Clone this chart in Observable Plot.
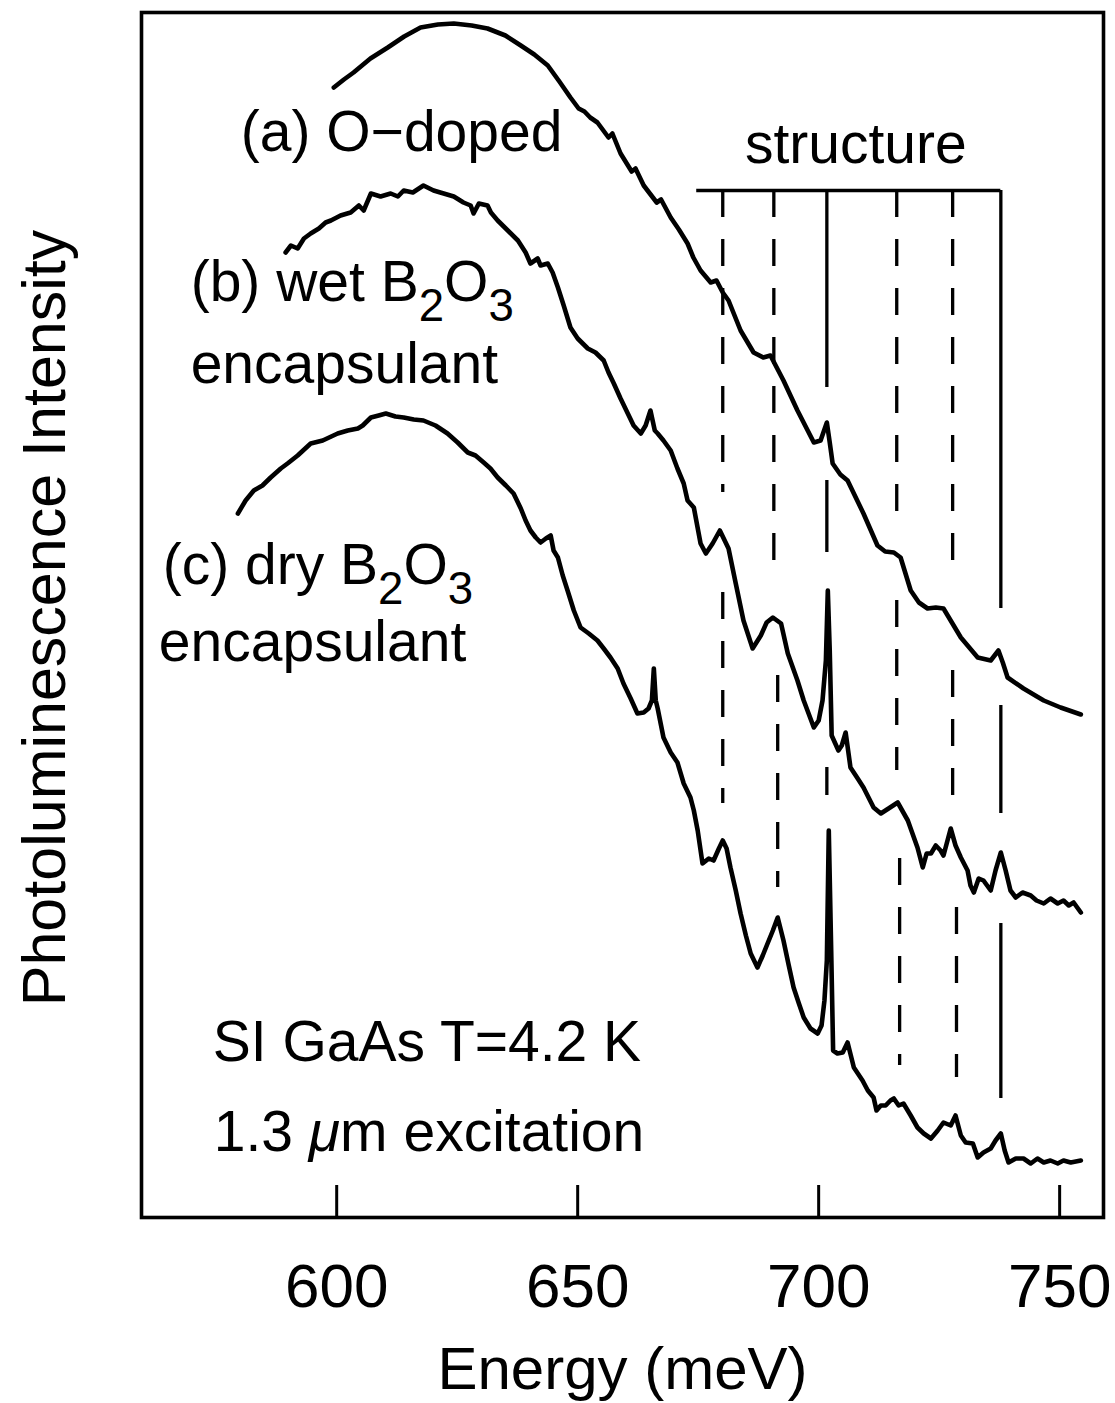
<!DOCTYPE html>
<html>
<head>
<meta charset="utf-8">
<script src="https://cdn.jsdelivr.net/npm/d3@7"></script>
<script src="https://cdn.jsdelivr.net/npm/@observablehq/plot@0.6"></script>
<style>
  body { margin: 0; background: #fff; }
</style>
</head>
<body>
<div id="chart"></div>
<script>
// Photoluminescence spectra of SI GaAs, energy in meV vs intensity (arb. units, curves offset)

const xTicks = [600, 650, 700, 750];

// (a) O-doped
const curveA = [
  [599.4,113.0],[601.5,113.8],[603.5,114.5],[607.0,115.9],[610.6,117.0],[614.0,118.1],[617.4,119.0],
  [621.0,119.3],[624.3,119.4],[628.0,119.2],[631.3,118.9],[635.0,118.2],[638.2,117.2],[641.0,116.3],
  [643.8,115.2],[646.2,113.6],[648.5,112.0],[650.2,110.9],[651.4,110.6],[652.6,110.0],[654.1,109.5],
  [656.4,108.0],[657.2,108.4],[658.9,106.4],[661.2,104.6],[662.0,104.9],[663.7,103.2],[666.4,101.5],
  [667.3,101.8],[669.3,100.0],[671.0,98.8],[672.8,97.4],[674.0,96.0],[675.5,94.7],[677.6,93.5],
  [678.8,93.7],[680.1,92.5],[681.3,91.7],[683.8,88.7],[686.5,86.5],[688.5,86.0],[690.0,86.2],
  [692.7,83.7],[695.6,80.7],[699.0,77.5],[700.4,77.7],[701.7,79.5],[702.3,77.5],[702.9,75.4],
  [704.5,74.3],[706.0,73.7],[709.3,70.4],[712.2,67.2],[713.8,66.6],[715.6,66.5],[717.0,66.0],
  [719.1,62.7],[720.8,61.5],[722.6,60.9],[724.3,61.0],[725.9,60.9],[729.5,58.0],[733.0,56.0],
  [735.7,55.7],[737.3,56.7],[738.2,55.5],[739.2,54.0],[742.5,52.9],[746.7,51.7],[750.2,51.0],
  [754.4,50.3]
];

// (b) wet B2O3 encapsulant
const curveB = [
  [589.4,96.5],[590.5,97.2],[591.9,96.9],[593.2,97.9],[594.6,98.4],[596.3,98.9],[597.7,99.5],
  [598.8,99.7],[600.8,100.2],[602.9,100.5],[604.6,101.2],[605.6,100.7],[607.1,102.4],[609.1,102.1],
  [611.2,102.4],[612.7,102.1],[613.9,102.7],[615.8,102.5],[618.0,103.2],[620.1,102.7],[622.2,102.4],
  [624.3,102.1],[626.3,101.5],[627.8,101.2],[628.4,100.4],[629.5,101.4],[631.3,101.2],[632.0,100.5],
  [633.4,99.7],[635.5,98.7],[637.6,97.7],[639.2,96.5],[640.2,95.4],[641.7,95.9],[642.3,95.2],
  [643.8,95.4],[644.8,94.5],[645.9,93.0],[647.1,91.2],[648.5,89.0],[650.0,87.9],[652.1,86.9],
  [653.7,86.5],[655.4,85.7],[656.4,84.5],[657.5,83.4],[658.9,81.9],[660.4,80.4],[661.6,79.2],
  [663.1,78.4],[664.1,79.2],[665.1,80.7],[666.0,78.7],[666.6,78.4],[667.8,77.7],[669.3,76.7],
  [670.7,74.9],[672.0,73.4],[672.8,71.7],[674.1,71.0],[675.5,67.4],[676.6,66.4],[678.0,67.4],
  [679.5,68.7],[681.3,66.9],[682.8,63.4],[684.4,59.7],[686.3,56.9],[688.0,58.2],[689.2,59.5],
  [690.5,60.0],[692.2,59.4],[693.6,56.4],[695.6,53.7],[696.9,51.7],[699.0,49.0],[700.0,49.7],
  [700.8,51.7],[701.5,55.7],[701.9,62.7],[702.3,56.7],[702.7,48.2],[704.1,46.7],[704.8,47.2],
  [705.6,48.5],[706.6,45.0],[708.1,43.9],[709.3,43.0],[711.4,41.0],[712.9,40.4],[714.5,40.9],
  [716.4,41.5],[718.5,39.7],[720.5,37.0],[721.6,35.0],[722.4,36.4],[723.3,36.4],[724.3,37.2],
  [725.3,36.7],[725.9,36.2],[727.4,38.9],[728.4,37.2],[729.5,36.0],[730.9,34.7],[731.5,33.2],
  [732.2,32.5],[733.2,33.9],[734.2,33.7],[735.7,32.7],[736.7,34.7],[737.8,36.5],[738.8,34.7],
  [739.8,32.7],[740.9,32.0],[742.3,32.5],[744.0,32.2],[745.2,31.7],[746.7,31.4],[748.1,31.9],
  [749.6,31.4],[750.8,31.7],[751.9,31.2],[752.9,31.5],[754.4,30.5]
];

// (c) dry B2O3 encapsulant
const curveC = [
  [579.5,70.4],[581.1,71.7],[582.8,72.7],[584.6,73.2],[586.3,74.0],[588.4,74.9],[589.8,75.4],
  [591.9,76.2],[594.6,77.4],[597.1,77.7],[600.2,78.4],[602.3,78.7],[604.4,78.9],[605.4,79.2],
  [607.1,80.0],[608.7,80.2],[610.2,80.4],[612.2,80.1],[613.9,80.0],[616.0,79.8],[618.0,79.7],
  [620.5,79.2],[623.0,78.4],[625.1,77.5],[627.2,76.5],[628.8,76.2],[630.5,75.5],[631.9,74.9],
  [633.4,74.0],[635.1,73.2],[636.7,72.4],[638.2,70.9],[639.2,69.7],[640.2,68.7],[641.3,68.0],
  [642.3,67.5],[643.4,67.9],[644.4,68.2],[645.0,66.7],[645.9,66.0],[646.9,64.2],[647.9,62.7],
  [649.2,60.7],[650.6,59.0],[652.3,58.4],[654.1,57.7],[655.4,56.9],[656.8,56.0],[658.3,54.9],
  [659.5,53.4],[661.0,51.9],[662.4,50.4],[663.7,50.5],[664.7,50.9],[665.4,51.7],[665.8,54.9],
  [666.2,51.7],[666.6,50.9],[667.8,48.0],[669.3,46.5],[670.7,45.5],[672.0,43.4],[673.4,42.0],
  [674.1,40.7],[674.9,38.7],[675.9,35.4],[677.2,35.9],[678.2,35.7],[679.3,36.9],[680.1,37.7],
  [680.9,36.9],[681.7,35.0],[682.8,32.7],[683.8,30.4],[684.9,28.2],[685.9,26.4],[687.3,25.0],
  [688.4,26.2],[689.4,27.4],[690.5,28.7],[691.5,30.0],[692.7,27.7],[693.8,25.2],[694.8,23.0],
  [695.9,21.4],[696.9,20.0],[698.3,18.9],[699.8,18.4],[700.6,19.2],[701.2,21.7],[701.7,25.7],
  [702.1,38.7],[702.6,26.7],[703.0,16.7],[703.9,16.4],[705.0,16.5],[706.0,17.5],[707.3,15.0],
  [709.1,13.7],[710.2,12.7],[711.4,12.0],[712.0,10.7],[712.9,11.2],[713.9,11.2],[714.9,11.7],
  [715.6,11.9],[716.6,11.2],[717.6,11.4],[719.1,10.2],[720.5,9.0],[721.8,8.4],[723.3,7.9],
  [724.7,8.7],[725.9,9.5],[727.4,9.2],[728.4,10.2],[729.5,8.2],[730.5,7.5],[732.0,7.4],
  [733.0,6.0],[734.2,6.5],[735.7,6.9],[736.7,7.7],[737.8,8.4],[738.6,6.7],[739.4,5.5],
  [740.9,5.9],[742.5,5.9],[744.0,5.4],[745.4,5.9],[746.7,5.5],[748.1,5.7],[749.6,5.4],
  [750.8,5.7],[752.3,5.5],[754.4,5.7]
];

// Structure markers: energy, line style, and the visible pieces [energy, top, bottom]
const structureEnergies = [680.1, 690.7, 701.7, 716.2, 727.8, 737.8];
const structureStyles = ["dashed", "dashed", "solid", "dashed", "dashed", "solid"];
const structureSegments = [
  [[680.1, 102.7, 72.5], [680.1, 62.5, 41.4]],
  [[690.7, 102.7, 63.5], [691.5, 54.2, 33.0]],
  [[701.7, 102.7, 83.0], [701.7, 73.7, 66.5], [701.7, 45.0, 42.2]],
  [[716.2, 102.7, 70.0], [716.2, 61.7, 44.7], [716.8, 35.9, 15.2]],
  [[727.8, 102.7, 64.4], [727.8, 54.7, 42.0], [728.6, 31.0, 14.0]],
  [[737.8, 102.7, 60.9], [737.8, 51.2, 40.4], [737.8, 29.4, 11.9]]
];
const bracketLevel = 102.7;
const bracketStart = 674.7;

const segments = structureSegments.flatMap((segs, i) =>
  segs.map(([x, top, bottom]) => ({x, top, bottom, style: structureStyles[i]}))
);

// Labels placed in data coordinates (energy, intensity); y is the text baseline
const curveLabels = [
  {text: "(a) O−doped", x: 580.1, y: 106.7},
  {text: "(b) wet B₂O₃", x: 569.7, y: 91.7},
  {text: "encapsulant", x: 569.7, y: 83.5},
  {text: "(c) dry B₂O₃", x: 563.9, y: 63.4},
  {text: "encapsulant", x: 563.1, y: 55.7},
  {text: "SI GaAs T=4.2 K", x: 574.3, y: 15.7},
  {text: "1.3 μm excitation", x: 574.5, y: 6.7}
];
const structureLabel = {text: "structure", x: 707.7, y: 105.5};

const xLabel = "Energy (meV)";
const yLabel = "Photoluminescence Intensity";

const font = "'Liberation Sans', Arial, Helvetica, sans-serif";
const tickLength = 3.2;
const lineWidth = 4.6;

const chart = Plot.plot({
  width: 1115,
  height: 1403,
  marginLeft: 141,
  marginRight: 12,
  marginTop: 12,
  marginBottom: 186,
  style: {fontFamily: font, fontSize: "60px", background: "#fff", color: "#000", overflow: "visible"},
  x: {domain: [559.5, 759.1]},
  y: {domain: [0, 120.5], axis: null},
  marks: [
    Plot.frame({stroke: "#000", strokeWidth: 3.6}),
    Plot.axisX(xTicks, {tickSize: 0, tickPadding: 45, fontSize: 62, tickFormat: d => String(d), label: null}),
    Plot.ruleX(xTicks, {y1: 0, y2: tickLength, stroke: "#000", strokeWidth: 3}),
    Plot.line(curveA, {x: d => d[0], y: d => d[1], stroke: "#000", strokeWidth: lineWidth, strokeLinejoin: "round"}),
    Plot.line(curveB, {x: d => d[0], y: d => d[1], stroke: "#000", strokeWidth: lineWidth, strokeLinejoin: "round"}),
    Plot.line(curveC, {x: d => d[0], y: d => d[1], stroke: "#000", strokeWidth: lineWidth, strokeLinejoin: "round"}),
    Plot.ruleX(segments.filter(d => d.style === "solid"), {x: "x", y1: "top", y2: "bottom", stroke: "#000", strokeWidth: 3.3}),
    Plot.ruleX(segments.filter(d => d.style === "dashed"), {x: "x", y1: "top", y2: "bottom", stroke: "#000", strokeWidth: 3.3, strokeDasharray: "27,22"}),
    Plot.ruleY([bracketLevel], {x1: bracketStart, x2: structureEnergies[structureEnergies.length - 1], stroke: "#000", strokeWidth: 3.3}),
    Plot.text(curveLabels, {x: "x", y: "y", text: "text", textAnchor: "start", lineAnchor: "bottom", fontSize: 57, fill: "#000"}),
    Plot.text([structureLabel], {x: "x", y: "y", text: "text", textAnchor: "middle", lineAnchor: "bottom", fontSize: 57, fill: "#000"}),
    Plot.text([xLabel], {frameAnchor: "bottom", text: d => d, textAnchor: "middle", lineAnchor: "bottom", dy: 171, fontSize: 60, fill: "#000"}),
    Plot.text([yLabel], {frameAnchor: "left", text: d => d, rotate: -90, textAnchor: "middle", lineAnchor: "bottom", dx: -77, dy: 3, fontSize: 61, fill: "#000"})
  ]
});

// Subscripts (₂ ₃) are set as shifted digits, μ in italics
function richText(svg) {
  const subs = {"₂": "2", "₃": "3"};
  svg.querySelectorAll("text").forEach(t => {
    const s = t.textContent;
    if (!/[₂₃μ]/.test(s)) return;
    const runs = [];
    for (const ch of s) {
      const kind = subs[ch] ? "sub" : ch === "μ" ? "ital" : "norm";
      const c = subs[ch] || ch;
      if (runs.length && runs[runs.length - 1].kind === kind) runs[runs.length - 1].text += c;
      else runs.push({kind, text: c});
    }
    t.textContent = "";
    let shift = 0;
    const ns = "http://www.w3.org/2000/svg";
    for (const r of runs) {
      const sp = document.createElementNS(ns, "tspan");
      const target = r.kind === "sub" ? 20 : 0;
      if (target !== shift) sp.setAttribute("dy", target - shift);
      shift = target;
      if (r.kind === "sub") sp.setAttribute("font-size", "0.8em");
      if (r.kind === "ital") sp.setAttribute("font-style", "italic");
      sp.textContent = r.text;
      t.appendChild(sp);
    }
  });
}
richText(chart);

document.getElementById("chart").appendChild(chart);
</script>
</body>
</html>
